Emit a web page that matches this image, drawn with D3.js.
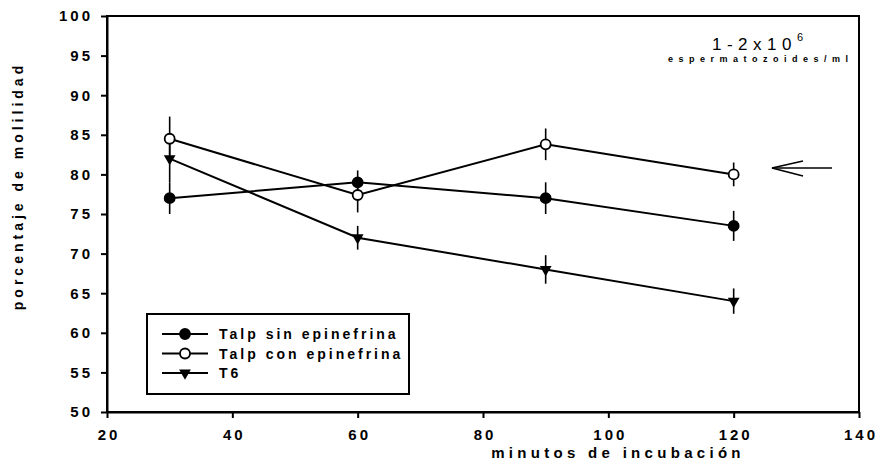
<!DOCTYPE html>
<html>
<head>
<meta charset="utf-8">
<script src="https://cdn.jsdelivr.net/npm/d3@7"></script>
<style>
  body { margin: 0; background: #fff; }
  svg { display: block; font-family: "Liberation Sans", Arial, sans-serif; }
  .tick text { font-size: 15px; font-weight: bold; letter-spacing: 3px; fill: #000; }
  .tick line, .domain { stroke: #000; stroke-width: 2; }
</style>
</head>
<body>
<svg id="chart" width="880" height="468"></svg>
<script>
// minutes of incubation
var minutos = [30, 60, 90, 120];
// series values (porcentaje de molilidad) and error bars
var talpSin = [77, 79, 77, 73.5];
var talpSinErr = [2, 1.5, 2, 1.9];
var talpCon = [84.5, 77.4, 83.8, 80];
var talpConErr = [2.8, 2.2, 2, 1.5];
var t6 = [82, 72, 68, 64];
var t6Err = [3, 1.5, 1.8, 1.6];
var seriesNames = ["Talp sin epinefrina", "Talp con epinefrina", "T6"];
var xTicks = [20, 40, 60, 80, 100, 120, 140];
var yTicks = [50, 55, 60, 65, 70, 75, 80, 85, 90, 95, 100];

var svg = d3.select("#chart");
var m = {left: 107, right: 21, top: 16, bottom: 56};
var W = 880, H = 468;

var x = d3.scaleLinear().domain([20, 140]).range([m.left, W - m.right]);
var y = d3.scaleLinear().domain([50, 100]).range([H - m.bottom, m.top]);

// frame (top and right)
svg.append("rect")
  .attr("x", x(20)).attr("y", y(100))
  .attr("width", x(140) - x(20)).attr("height", y(50) - y(100))
  .attr("fill", "none").attr("stroke", "#000").attr("stroke-width", 2);

svg.append("g").attr("transform", "translate(0," + y(50) + ")")
  .call(d3.axisBottom(x).tickValues(xTicks).tickSize(6).tickSizeOuter(0).tickPadding(11))
  .selectAll(".tick text").attr("dx", "1.5px");

svg.append("g").attr("transform", "translate(" + x(20) + ",0)")
  .call(d3.axisLeft(y).tickValues(yTicks).tickSize(6).tickSizeOuter(0).tickPadding(8));

// axis titles
svg.append("text")
  .attr("x", 618).attr("y", 458).attr("text-anchor", "middle")
  .style("font-size", "15px").style("font-weight", "bold").style("letter-spacing", "4.3px")
  .text("minutos de incubación");

svg.append("text")
  .attr("transform", "translate(23,186) rotate(-90)").attr("text-anchor", "middle")
  .style("font-size", "14px").style("font-weight", "bold").style("letter-spacing", "4px")
  .text("porcentaje de molilidad");

// annotation
var ann = svg.append("text").attr("x", 712).attr("y", 50)
  .style("font-size", "17px").style("letter-spacing", "5.5px");
ann.append("tspan").text("1-2x10");
ann.append("tspan").attr("dy", -9).style("font-size", "11px").text("6");
svg.append("text").attr("x", 668).attr("y", 62)
  .style("font-size", "9px").style("font-weight", "bold").style("letter-spacing", "5.5px")
  .text("espermatozoides/ml");

// arrow
svg.append("line").attr("x1", 772).attr("y1", 168).attr("x2", 832).attr("y2", 168)
  .attr("stroke", "#000").attr("stroke-width", 1.5);
svg.append("path").attr("d", "M 803 161 L 772 168 L 803 176")
  .attr("fill", "none").attr("stroke", "#000").attr("stroke-width", 1.5);

var series = [
  {name: seriesNames[0], vals: talpSin, err: talpSinErr, shape: "fill"},
  {name: seriesNames[1], vals: talpCon, err: talpConErr, shape: "open"},
  {name: seriesNames[2], vals: t6, err: t6Err, shape: "tri"}
];

var line = d3.line().x(function(d) { return x(d[0]); }).y(function(d) { return y(d[1]); });

function marker(g, shape) {
  if (shape === "tri") {
    g.append("path").attr("d", d3.symbol().type(d3.symbolTriangle).size(60))
      .attr("transform", "rotate(180)").attr("fill", "#000");
  } else {
    g.append("circle").attr("r", 5)
      .attr("fill", shape === "fill" ? "#000" : "#fff")
      .attr("stroke", "#000").attr("stroke-width", 1.8);
  }
}

// error bars
series.forEach(function(s) {
  svg.append("g").selectAll("line").data(minutos).enter().append("line")
    .attr("x1", function(d) { return x(d); }).attr("x2", function(d) { return x(d); })
    .attr("y1", function(d, i) { return y(s.vals[i] + s.err[i]); })
    .attr("y2", function(d, i) { return y(s.vals[i] - s.err[i]); })
    .attr("stroke", "#000").attr("stroke-width", 1.6);
});

// lines
series.forEach(function(s) {
  svg.append("path")
    .datum(minutos.map(function(d, i) { return [d, s.vals[i]]; }))
    .attr("d", line).attr("fill", "none").attr("stroke", "#000").attr("stroke-width", 2);
});

// markers
series.forEach(function(s) {
  minutos.forEach(function(d, i) {
    var g = svg.append("g").attr("transform", "translate(" + x(d) + "," + y(s.vals[i]) + ")");
    marker(g, s.shape);
  });
});

// legend
var lg = svg.append("g");
lg.append("rect").attr("x", 147).attr("y", 314).attr("width", 262).attr("height", 80)
  .attr("fill", "#fff").attr("stroke", "#000").attr("stroke-width", 2);
series.forEach(function(s, i) {
  var yy = 334 + i * 19.5;
  lg.append("line").attr("x1", 162).attr("x2", 208).attr("y1", yy).attr("y2", yy)
    .attr("stroke", "#000").attr("stroke-width", 2);
  var g = lg.append("g").attr("transform", "translate(185," + yy + ")");
  marker(g, s.shape);
  lg.append("text").attr("x", 219).attr("y", yy + 5)
    .style("font-size", "14px").style("font-weight", "bold").style("letter-spacing", "3px")
    .text(s.name);
});
</script>
</body>
</html>
